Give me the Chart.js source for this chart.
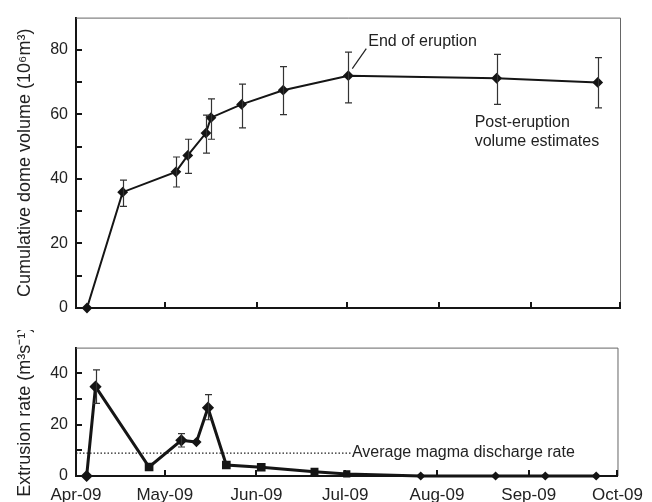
<!DOCTYPE html>
<html>
<head>
<meta charset="utf-8">
<script src="https://cdn.jsdelivr.net/npm/chart.js@4"></script>
<style>
  body { margin: 0; background: #fff; }
  #wrap { position: relative; width: 652px; height: 502px; }
  canvas { position: absolute; left: 0; }
</style>
</head>
<body>
<div id="wrap">
  <canvas id="volChart" width="652" height="330" style="top:0"></canvas>
  <canvas id="rateChart" width="652" height="172" style="top:330px"></canvas>
</div>
<script>
// =============== D A T A ================================
// x = days since 1 Apr 2009
const monthDays = [0, 30, 61, 91, 122, 153, 183];
const monthLabels = ['Apr-09', 'May-09', 'Jun-09', 'Jul-09', 'Aug-09', 'Sep-09', 'Oct-09'];

const volDays = [3.7, 15.7, 33.6, 37.6, 43.7, 45.4, 55.7, 69.7, 91.6, 141.5, 175.5];
const volValues = [0, 35.9, 42.2, 47.3, 54.2, 59.0, 63.1, 67.5, 72.0, 71.2, 69.9];
const volErrLow = [null, 31.5, 37.5, 41.7, 48.0, 52.3, 55.8, 59.9, 63.6, 63.1, 62.0];
const volErrHigh = [null, 39.6, 46.8, 52.3, 59.8, 64.8, 69.4, 74.8, 79.3, 78.6, 77.6];

const rateDays = [3.6, 6.6, 24.7, 35.6, 40.7, 44.6, 50.8, 62.6, 80.6, 91.5, 116.5, 141.8, 158.6, 175.8];
const rateValues = [0, 34.8, 3.5, 13.9, 13.2, 26.6, 4.3, 3.4, 1.7, 0.8, 0, 0, 0, 0];
const rateErrLow = [null, 28.3, null, 11.3, null, 21.9, null, null, null, null, null, null, null, null];
const rateErrHigh = [null, 41.3, null, 16.5, null, 31.7, null, null, null, null, null, null, null, null];
const ratePointStyles = ['rectRot', 'rectRot', 'rect', 'rectRot', 'rectRot', 'rectRot', 'rect', 'rect', 'rect', 'rect', 'rectRot', 'rectRot', 'rectRot', 'rectRot'];
const ratePointSizes = [4, 4, 4, 4, 3, 4, 4, 4, 3.5, 3, 2.5, 2.5, 2.5, 2.5];

const avgRate = 8.9;
const avgDays = [0, 92.9];

const volTicks = [0, 20, 40, 60, 80];
const rateTicks = [0, 20, 40];

// =============== H E L P E R S ================================
Chart.defaults.font.family = '"Liberation Sans", Arial, Helvetica, sans-serif';
Chart.defaults.color = '#222';

const ink = '#151515';

function pts(xs, ys) {
  return xs.map((x, i) => ({ x: x, y: ys[i] }));
}

// frame (thin top/right) + inward tick marks
const frame = {
  id: 'frame',
  afterDraw(chart) {
    const { ctx, chartArea: a, scales } = chart;
    ctx.save();
    ctx.strokeStyle = '#666';
    ctx.lineWidth = 1;
    ctx.beginPath();
    ctx.moveTo(a.left, a.top + 0.5);
    ctx.lineTo(a.right + 0.5, a.top + 0.5);
    ctx.lineTo(a.right + 0.5, a.bottom);
    ctx.stroke();

    ctx.strokeStyle = ink;
    ctx.lineWidth = 2;
    scales.x.ticks.forEach(t => {
      const px = Math.round(scales.x.getPixelForValue(t.value));
      ctx.beginPath();
      ctx.moveTo(px, a.bottom);
      ctx.lineTo(px, a.bottom - 6);
      ctx.stroke();
    });
    scales.y.ticks.forEach(t => {
      if (t.value >= scales.y.max || t.value <= scales.y.min) return;
      const py = Math.round(scales.y.getPixelForValue(t.value));
      ctx.beginPath();
      ctx.moveTo(a.left, py);
      ctx.lineTo(a.left + 6, py);
      ctx.stroke();
    });
    ctx.restore();
  }
};

// vertical error bars from errLow / errHigh on a dataset
const errBars = {
  id: 'errBars',
  afterDatasetsDraw(chart) {
    const { ctx, scales: { x, y } } = chart;
    ctx.save();
    ctx.strokeStyle = '#333';
    ctx.lineWidth = 1.2;
    chart.data.datasets.forEach(ds => {
      if (!ds.errLow) return;
      ds.errLow.forEach((lo, j) => {
        if (lo == null) return;
        const px = Math.round(x.getPixelForValue(ds.data[j].x)) + 0.5;
        const y1 = y.getPixelForValue(lo);
        const y2 = y.getPixelForValue(ds.errHigh[j]);
        ctx.beginPath();
        ctx.moveTo(px, y1); ctx.lineTo(px, y2);
        ctx.moveTo(px - 3.5, y1); ctx.lineTo(px + 3.5, y1);
        ctx.moveTo(px - 3.5, y2); ctx.lineTo(px + 3.5, y2);
        ctx.stroke();
      });
    });
    ctx.restore();
  }
};

// text notes anchored to data values
const notes = {
  id: 'notes',
  afterDraw(chart, args, opts) {
    const { ctx, scales: { x, y } } = chart;
    ctx.save();
    ctx.fillStyle = '#222';
    ctx.font = '16px "Liberation Sans", Arial, sans-serif';
    ctx.textBaseline = 'middle';
    (opts.items || []).forEach(n => {
      const px = x.getPixelForValue(n.x);
      const py = y.getPixelForValue(n.y);
      n.lines.forEach((l, k) => ctx.fillText(l, px + n.dx, py + n.dy + k * 19));
      if (n.leader) {
        ctx.strokeStyle = '#222';
        ctx.lineWidth = 1.2;
        ctx.beginPath();
        ctx.moveTo(px + n.leader[0], py + n.leader[1]);
        ctx.lineTo(px + n.leader[2], py + n.leader[3]);
        ctx.stroke();
      }
    });
    ctx.restore();
  }
};

function xScale(showLabels, height) {
  return {
    type: 'linear',
    min: 0,
    max: 183,
    grid: { display: false, drawTicks: false },
    border: { display: true, color: ink, width: 2 },
    afterBuildTicks: s => { s.ticks = monthDays.map(v => ({ value: v })); },
    afterFit: s => { s.height = height; },
    ticks: {
      display: showLabels,
      padding: 9,
      maxRotation: 0,
      autoSkip: false,
      font: { size: 17 },
      callback: (v) => monthLabels[monthDays.indexOf(v)]
    }
  };
}

function yScale(max, step, labels, title) {
  return {
    min: 0,
    max: max,
    grid: { display: false, drawTicks: false },
    border: { display: true, color: ink, width: 2 },
    afterFit: s => { s.width = 76; },
    ticks: {
      stepSize: step,
      padding: 8,
      font: { size: 16 },
      callback: v => labels.includes(v) ? v : ''
    },
    title: {
      display: true,
      text: title,
      font: { size: 18 },
      padding: { top: 14, bottom: 0 }
    }
  };
}

// =============== T O P   C H A R T ================================
new Chart(document.getElementById('volChart'), {
  type: 'line',
  data: {
    datasets: [{
      data: pts(volDays, volValues),
      errLow: volErrLow,
      errHigh: volErrHigh,
      borderColor: ink,
      backgroundColor: ink,
      borderWidth: 2,
      pointStyle: 'rectRot',
      pointRadius: 4,
      tension: 0,
      clip: false
    }]
  },
  options: {
    responsive: false,
    animation: false,
    layout: { padding: { top: 14, right: 32, bottom: 22, left: 0 } },
    plugins: {
      legend: { display: false },
      tooltip: { enabled: false },
      notes: {
        items: [
          { x: volDays[8], y: volValues[8], dx: 20, dy: -34, lines: ['End of eruption'], leader: [4, -7, 18, -27] },
          { x: volDays[9], y: volValues[9], dx: -22, dy: 44, lines: ['Post-eruption', 'volume estimates'] }
        ]
      }
    },
    scales: {
      x: xScale(false, 0),
      y: yScale(90, 10, volTicks, 'Cumulative dome volume (10⁶m³)')
    }
  },
  plugins: [frame, errBars, notes]
});

// =============== B O T T O M   C H A R T ================================
new Chart(document.getElementById('rateChart'), {
  type: 'line',
  data: {
    datasets: [{
      data: pts(rateDays, rateValues),
      errLow: rateErrLow,
      errHigh: rateErrHigh,
      borderColor: ink,
      backgroundColor: ink,
      borderWidth: 3,
      pointStyle: ratePointStyles,
      pointRadius: ratePointSizes,
      tension: 0,
      clip: false
    }, {
      data: pts(avgDays, [avgRate, avgRate]),
      borderColor: '#222',
      borderWidth: 1.3,
      borderDash: [1.5, 2],
      pointRadius: 0
    }]
  },
  options: {
    responsive: false,
    animation: false,
    layout: { padding: { top: 17, right: 32, bottom: 0, left: 0 } },
    plugins: {
      legend: { display: false },
      tooltip: { enabled: false },
      notes: {
        items: [
          { x: avgDays[1], y: avgRate, dx: 1, dy: -1, lines: ['Average magma discharge rate'] }
        ]
      }
    },
    scales: {
      x: xScale(true, 26),
      y: yScale(50, 5, rateTicks, 'Extrusion rate (m³s⁻¹)')
    }
  },
  plugins: [frame, errBars, notes]
});
</script>
</body>
</html>
